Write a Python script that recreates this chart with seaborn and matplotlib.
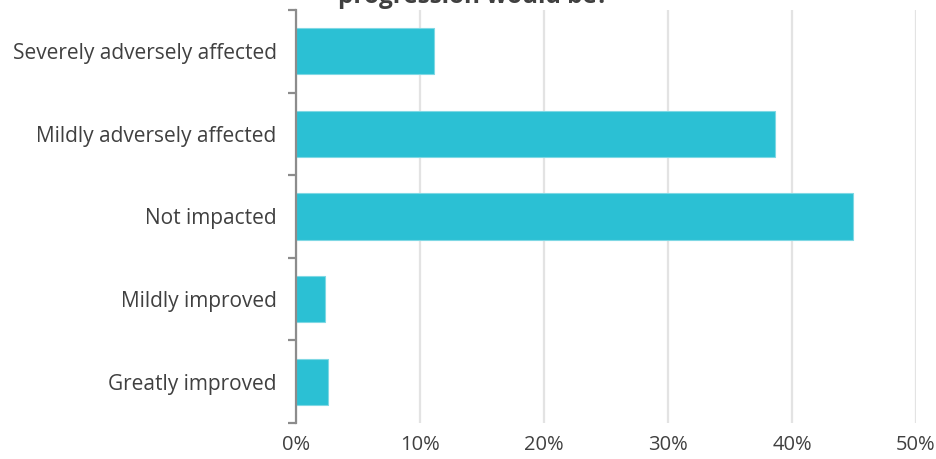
import matplotlib
matplotlib.use("Agg")
import matplotlib.pyplot as plt
import seaborn as sns
import pandas as pd
import numpy as np

categories = [
    "Severely adversely affected",
    "Mildly adversely affected",
    "Not impacted",
    "Mildly improved",
    "Greatly improved",
]
shares = [11.1, 38.6, 44.9, 2.3, 2.6]
x_ticks = [0, 10, 20, 30, 40, 50]
x_tick_labels = ["0%", "10%", "20%", "30%", "40%", "50%"]
title_text = "progression would be?"

df = pd.DataFrame({"category": categories, "share": shares})

sns.set_theme(style="white")
plt.rcParams["font.family"] = ["Open Sans", "DejaVu Sans"]

W, H = 936, 459
fig = plt.figure(figsize=(W / 100, H / 100), dpi=100)
ax = fig.add_axes([296 / W, 1 - 423 / H, (916 - 296) / W, (423 - 10) / H])

sns.barplot(data=df, x="share", y="category", orient="h", color="#2BC0D4",
            saturation=1, width=0.56, edgecolor="#7FD8E4", linewidth=0.8,
            ax=ax, zorder=3)

ax.set_xlim(0, 50)
ax.set_ylim(4.5, -0.5)
ax.set_xticks(x_ticks)
ax.set_xticklabels(x_tick_labels)
ax.set_xlabel("")
ax.set_ylabel("")

ax.grid(axis="x", color="#E3E3E3", linewidth=1.6, zorder=0)
ax.set_axisbelow(True)

for side in ["top", "right", "bottom"]:
    ax.spines[side].set_visible(False)
ax.spines["left"].set_color("#8C8C8C")
ax.spines["left"].set_linewidth(1.6)
ax.spines["left"].set_zorder(5)

ax.tick_params(axis="y", which="major", left=False, length=0, pad=14,
               labelsize=15, labelcolor="#404040")
ax.set_yticks(np.arange(-0.5, 5, 1.0), minor=True)
ax.tick_params(axis="y", which="minor", left=True, length=6, width=1.6,
               color="#8C8C8C", direction="out")
ax.tick_params(axis="x", bottom=False, length=0, pad=9, labelsize=14.5,
               labelcolor="#404040")

fig.text(473 / W, 1 - 9 / H, title_text, ha="center", va="bottom",
         fontsize=17.5, fontweight="bold", color="#404040")

fig.savefig("out.png", dpi=100)
